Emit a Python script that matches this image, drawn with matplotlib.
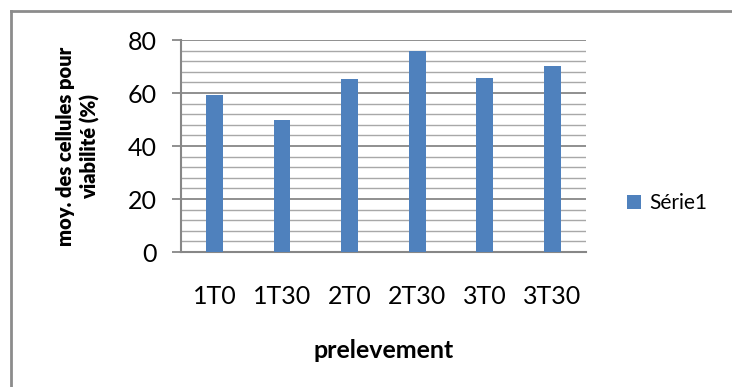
import matplotlib
matplotlib.use('Agg')
import matplotlib.pyplot as plt
from matplotlib.lines import Line2D

categories = ['1T0', '1T30', '2T0', '2T30', '3T0', '3T30']
viabilite = [59.4, 49.9, 65.3, 76.0, 65.8, 70.1]
series_name = 'Série1'

plt.rcParams['font.family'] = ['Lato', 'DejaVu Sans']

fig = plt.figure(figsize=(7.32, 3.87), dpi=100)
ax = fig.add_axes([0.2469, 0.3488, 0.5536, 0.5478])

x = list(range(len(categories)))
ax.bar(x, viabilite, width=0.25, color='#4f81bd', label=series_name, zorder=3)

ax.set_xlim(-0.5, len(categories) - 0.5)
ax.set_ylim(0, 80)
ax.set_yticks(range(0, 81, 20))
ax.set_yticks(range(0, 81, 4), minor=True)
ax.set_xticks(x)
ax.set_xticklabels(categories)

# major and minor horizontal gridlines
ax.grid(axis='y', which='major', color='#878787', linewidth=1.3, zorder=0)
ax.grid(axis='y', which='minor', color='#a8a8a8', linewidth=1.0, zorder=0)

for side in ['top', 'right']:
    ax.spines[side].set_visible(False)
for side in ['left', 'bottom']:
    ax.spines[side].set_color('#878787')
    ax.spines[side].set_linewidth(1.5)

ax.tick_params(axis='y', which='major', length=6.5, width=1.3, color='#878787',
               pad=11, labelsize=18)
ax.tick_params(axis='y', which='minor', length=0)
ax.tick_params(axis='x', length=0, pad=24, labelsize=18)

ax.set_ylabel('moy. des cellules pour\nviabilité (%)', fontsize=14.5,
              fontweight='heavy', linespacing=1.3)
ax.yaxis.set_label_coords(-0.2, 0.5)
ax.set_xlabel('prelevement', fontsize=18, fontweight='bold')
ax.xaxis.set_label_coords(0.5, -0.41)

ax.legend(loc='center left', bbox_to_anchor=(627 / 732, 1 - 203 / 387),
          bbox_transform=fig.transFigure, frameon=False, fontsize=15,
          handlelength=0.65, handleheight=0.65, handletextpad=0.4,
          borderaxespad=0, borderpad=0)

# chart frame (left and top edges)
frame_x = 10.5 / 732
frame_y = 1 - 11 / 387
fig.add_artist(Line2D([frame_x, frame_x], [0, frame_y], transform=fig.transFigure,
                      color='#8c8c8c', linewidth=2))
fig.add_artist(Line2D([frame_x, 1], [frame_y, frame_y], transform=fig.transFigure,
                      color='#8c8c8c', linewidth=2))

fig.savefig('out.png', dpi=100)
